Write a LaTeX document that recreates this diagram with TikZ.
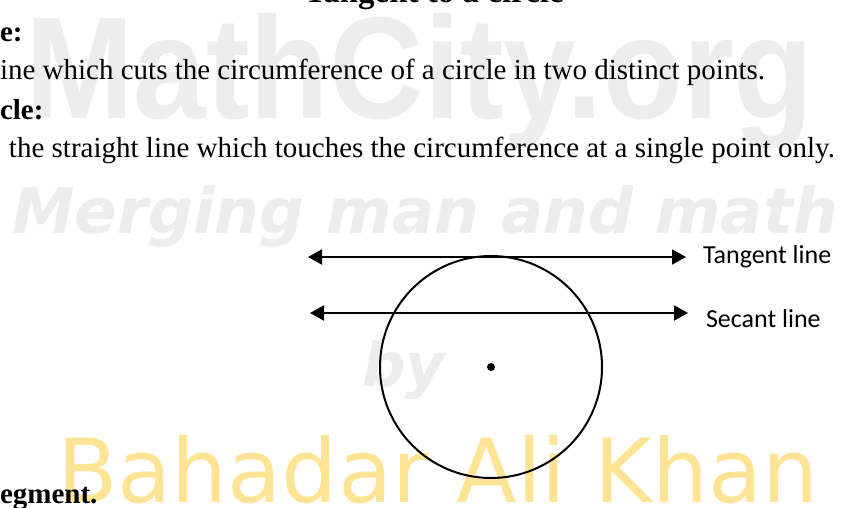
\documentclass[tikz,border=0pt]{standalone}
\usepackage{fontspec}
\usepackage{graphicx}
\setmainfont{Liberation Serif}
\newfontfamily\calib{Carlito}
\newfontfamily\wmsans{Liberation Sans}
\newfontfamily\dvs{DejaVu Sans}
\newfontfamily\dvsbo{DejaVu Sans Bold Oblique}
\usetikzlibrary{arrows.meta}
\definecolor{wmgray}{RGB}{237,237,237}
\definecolor{wmgold}{RGB}{255,228,150}
\begin{document}
\begin{tikzpicture}[x=1pt,y=-1pt,
  every node/.style={inner sep=0pt, outer sep=0pt},
  body/.style={anchor=base west, font=\fontsize{29}{34}\selectfont},
  head/.style={anchor=base west, font=\fontsize{29}{34}\selectfont\bfseries},
  lbl/.style={anchor=base west, font=\calib\fontsize{26}{30}\selectfont},
  wm/.style={anchor=base west, text=wmgray},
  dline/.style={line width=2pt, {Triangle[length=14pt,width=15pt]}-{Triangle[length=14pt,width=15pt]}},
]
\useasboundingbox (0,0) rectangle (845,508);
\fill[white] (0,0) rectangle (845,508);
\clip (0,0) rectangle (845,508);
% watermarks
\node[wm] (wm1) at (25,118) {\resizebox{788pt}{105pt}{\wmsans\bfseries MathCity.org}};
\node[wm] (wm2) at (12,233) {\resizebox{826pt}{!}{\dvsbo Merging man and math}};
\node[wm] (wm3) at (362,386) {\resizebox{83pt}{!}{\dvsbo by}};
\node[wm, text=wmgold] (wm4) at (57,502) {\resizebox{761pt}{!}{\dvs Bahadar Ali Khan}};
% text
\node[anchor=base, font=\fontsize{33}{38}\selectfont\bfseries] (title) at (434,2.5) {Tangent to a circle};
\node[head] (h1) at (0,41.7) {e:};
\node[body] (b1) at (0,80) {ine which cuts the circumference of a circle in two distinct points.};
\node[head] (h2) at (0,120) {cle:};
\node[body] (b2) at (9,157) {the straight line which touches the circumference at a single point only.};
\node[head] (h3) at (0,503) {egment.};
% figure
\node[circle, draw, line width=2pt, minimum size=222pt] (circ) at (491,367) {};
\node[circle, fill, minimum size=8pt] (ctr) at (circ.center) {};
\coordinate (tA) at (308,257);
\coordinate (tB) at (686,257);
\coordinate (sA) at (310,313);
\coordinate (sB) at (688,313);
\draw[dline] (tA) -- (tB);
\draw[dline] (sA) -- (sB);
\node[lbl] (tl) at (703,263) {Tangent line};
\node[lbl] (sl) at (706,327) {Secant line};
\end{tikzpicture}
\end{document}
